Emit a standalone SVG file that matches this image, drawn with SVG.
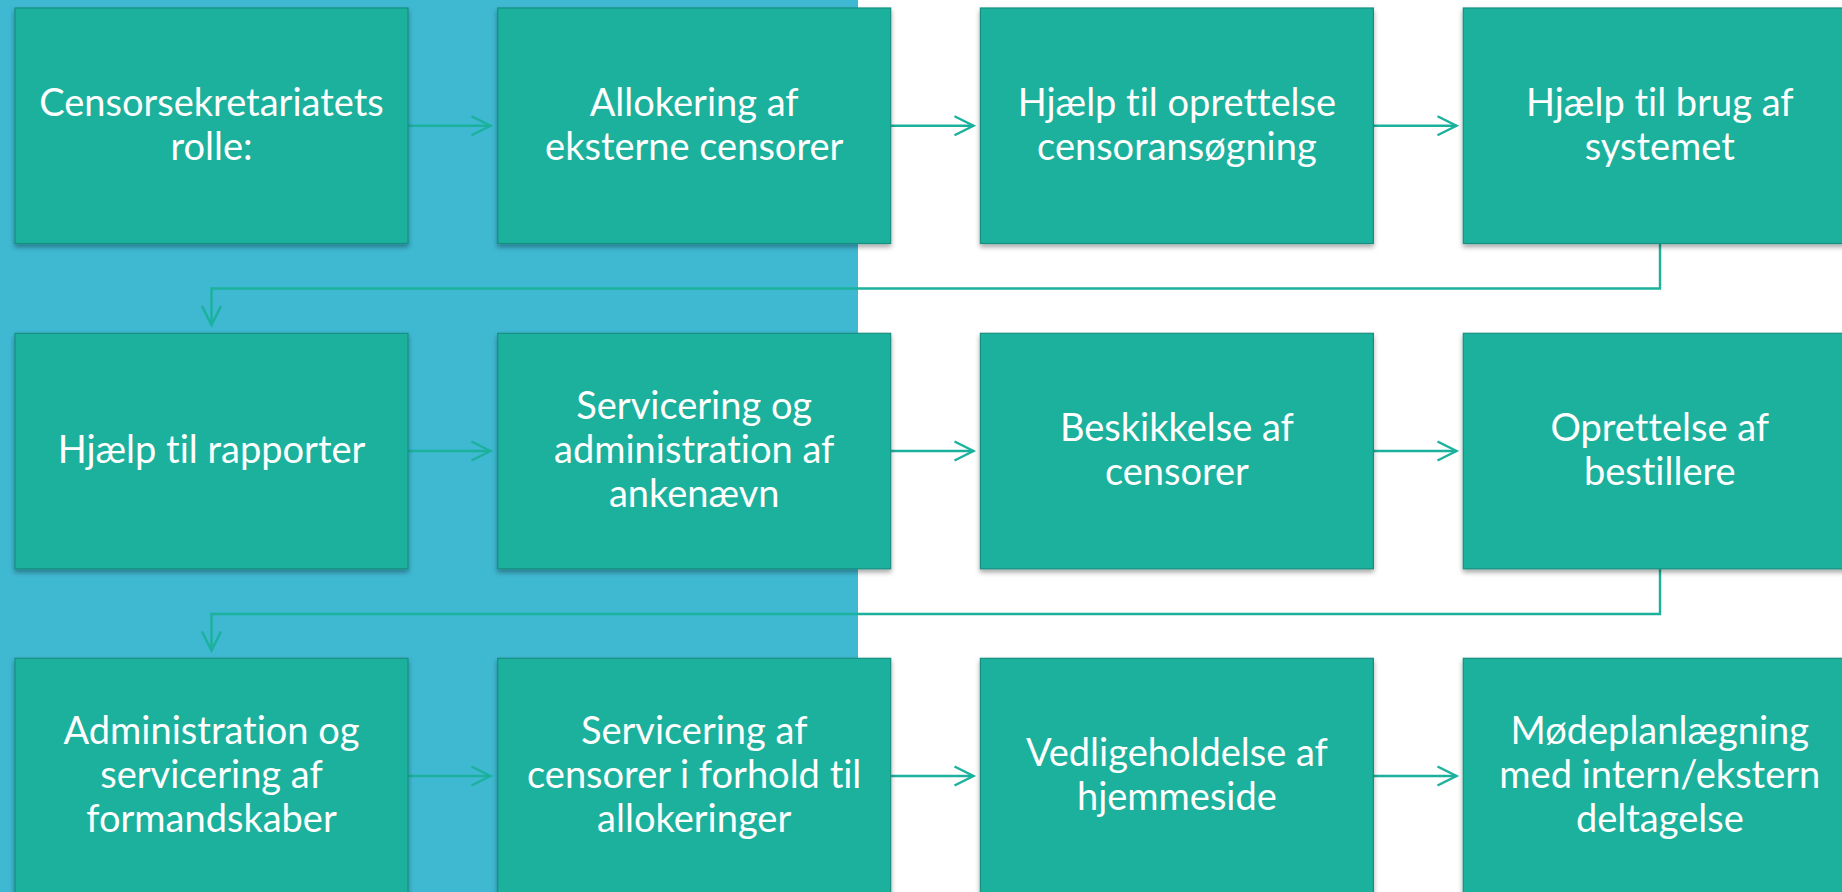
<svg xmlns="http://www.w3.org/2000/svg" width="1842" height="892" viewBox="0 0 1842 892">
<defs>
<filter id="sh" x="-5%" y="-5%" width="110%" height="115%">
<feDropShadow dx="0" dy="3" stdDeviation="2.5" flood-color="#000" flood-opacity="0.35"/>
</filter>
<marker id="ah" viewBox="-22 -12 26 24" markerWidth="26" markerHeight="24" refX="0" refY="0" orient="auto" markerUnits="userSpaceOnUse">
<path d="M-19,-9.5 L0,0 L-19,9.5" fill="none" stroke="#1BB19C" stroke-width="2.4"/>
</marker>
<style>
.box{fill:#1BB19C;stroke:#178F80;stroke-width:1.2;filter:url(#sh)}
.t{font-family:Lato,"Open Sans","Liberation Sans",sans-serif;font-size:38px;fill:#FFFFFF;text-anchor:middle;font-variant-ligatures:none;font-feature-settings:"liga" 0,"dlig" 0}
.c{fill:none;stroke:#1BB19C;stroke-width:2.4;marker-end:url(#ah)}
</style>
</defs>
<rect x="0" y="0" width="1842" height="892" fill="#FFFFFF"/>
<rect x="0" y="0" width="858" height="892" fill="#3FB8D2"/>

<g id="connectors">
<path class="c" d="M408,125.75 H490.5"/>
<path class="c" d="M891,125.75 H973.5"/>
<path class="c" d="M1374,125.75 H1456.5"/>
<path class="c" d="M1660,243.5 V288.5 H211.5 V325"/>
<path class="c" d="M408,451 H490.5"/>
<path class="c" d="M891,451 H973.5"/>
<path class="c" d="M1374,451 H1456.5"/>
<path class="c" d="M1660,569 V614 H211.5 V650.5"/>
<path class="c" d="M408,776 H490.5"/>
<path class="c" d="M891,776 H973.5"/>
<path class="c" d="M1374,776 H1456.5"/>
</g>

<g id="n1"><rect class="box" x="15" y="8" width="393" height="235.5"/>
<text class="t" x="211.5"><tspan x="211.5" y="115.5">Censorsekretariatets</tspan><tspan x="211.5" y="159.5">rolle:</tspan></text></g>
<g id="n2"><rect class="box" x="497.7" y="8" width="393" height="235.5"/>
<text class="t"><tspan x="694.2" y="115.5">Allokering af</tspan><tspan x="694.2" y="159.5">eksterne censorer</tspan></text></g>
<g id="n3"><rect class="box" x="980.4" y="8" width="393" height="235.5"/>
<text class="t"><tspan x="1176.9" y="115.5">Hjælp til oprettelse</tspan><tspan x="1176.9" y="159.5">censoransøgning</tspan></text></g>
<g id="n4"><rect class="box" x="1463.3" y="8" width="393" height="235.5"/>
<text class="t"><tspan x="1659.8" y="115.5">Hjælp til brug af</tspan><tspan x="1659.8" y="159.5">systemet</tspan></text></g>

<g id="n5"><rect class="box" x="15" y="333.3" width="393" height="235.5"/>
<text class="t"><tspan x="211.5" y="462.5">Hjælp til rapporter</tspan></text></g>
<g id="n6"><rect class="box" x="497.7" y="333.3" width="393" height="235.5"/>
<text class="t"><tspan x="694.2" y="418.5">Servicering og</tspan><tspan x="694.2" y="462.5">administration af</tspan><tspan x="694.2" y="506.5">ankenævn</tspan></text></g>
<g id="n7"><rect class="box" x="980.4" y="333.3" width="393" height="235.5"/>
<text class="t"><tspan x="1176.9" y="440.5">Beskikkelse af</tspan><tspan x="1176.9" y="484.5">censorer</tspan></text></g>
<g id="n8"><rect class="box" x="1463.3" y="333.3" width="393" height="235.5"/>
<text class="t"><tspan x="1659.8" y="440.5">Oprettelse af</tspan><tspan x="1659.8" y="484.5">bestillere</tspan></text></g>

<g id="n9"><rect class="box" x="15" y="658.3" width="393" height="235.5"/>
<text class="t"><tspan x="211.5" y="743.5">Administration og</tspan><tspan x="211.5" y="787.5">servicering af</tspan><tspan x="211.5" y="831.5">formandskaber</tspan></text></g>
<g id="n10"><rect class="box" x="497.7" y="658.3" width="393" height="235.5"/>
<text class="t"><tspan x="694.2" y="743.5">Servicering af</tspan><tspan x="694.2" y="787.5">censorer i forhold til</tspan><tspan x="694.2" y="831.5">allokeringer</tspan></text></g>
<g id="n11"><rect class="box" x="980.4" y="658.3" width="393" height="235.5"/>
<text class="t"><tspan x="1176.9" y="765.5">Vedligeholdelse af</tspan><tspan x="1176.9" y="809.5">hjemmeside</tspan></text></g>
<g id="n12"><rect class="box" x="1463.3" y="658.3" width="393" height="235.5"/>
<text class="t"><tspan x="1659.8" y="743.5">Mødeplanlægning</tspan><tspan x="1659.8" y="787.5">med intern/ekstern</tspan><tspan x="1659.8" y="831.5">deltagelse</tspan></text></g>
</svg>
